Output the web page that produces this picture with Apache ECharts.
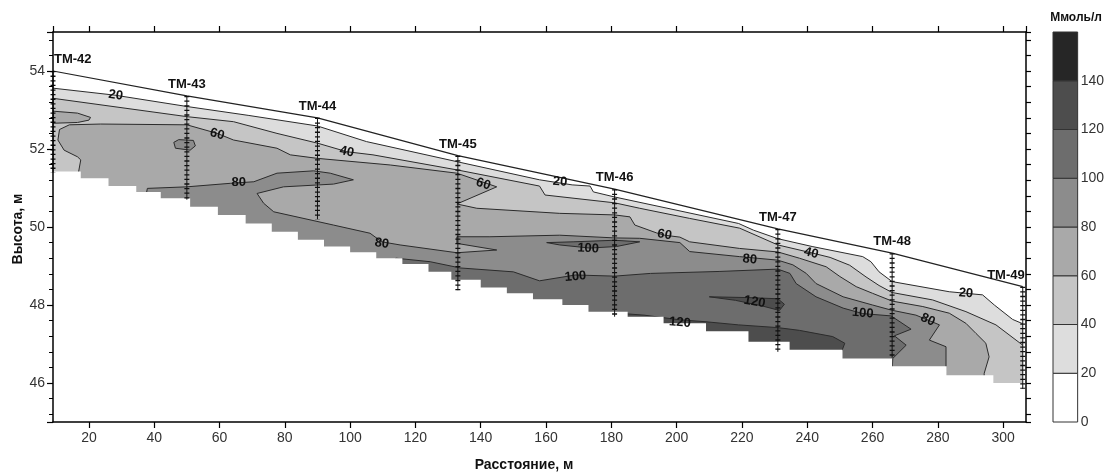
<!DOCTYPE html>
<html>
<head>
<meta charset="utf-8">
<script src="https://cdn.jsdelivr.net/npm/echarts@6/dist/echarts.min.js"></script>
<style>
  html, body { margin: 0; padding: 0; background: #fff; }
  #chart { width: 1107px; height: 473px; }
</style>
</head>
<body>
<div id="chart"></div>
<script>
// boreholes along the profile
const stationNames = ['TM-42', 'TM-43', 'TM-44', 'TM-45', 'TM-46', 'TM-47', 'TM-48', 'TM-49'];
const stationX = [9, 50, 90, 133, 181, 231, 266, 306];
const surfaceY = [54.0, 53.36, 52.8, 51.83, 50.97, 49.95, 49.33, 48.47];
const stationBottomY = [51.4, 50.7, 50.2, 48.38, 47.7, 46.8, 46.65, 45.85];

// lower edge of the gridded area, [x where the step starts, height]
const bottomSteps = [[9, 51.42], [17.5, 51.25], [26, 51.05], [34.5, 50.9], [42, 50.74], [51, 50.52],
  [59.5, 50.31], [68, 50.09], [76, 49.88], [84, 49.67], [92, 49.5], [100, 49.35], [108, 49.2],
  [116, 49.05], [124, 48.85], [131, 48.65], [140, 48.45], [148, 48.3], [156, 48.15], [165, 48.0],
  [173, 47.83], [185, 47.7], [196, 47.53], [209, 47.33], [222, 47.06], [234.6, 46.85],
  [250.8, 46.63], [266, 46.43], [282.7, 46.2], [297, 46.0]];

// contour levels, mmol/l
const levels = [0, 20, 40, 60, 80, 100, 120, 140, 160];
const bandColors = ['#ffffff', '#dddddd', '#c5c5c5', '#a9a9a9', '#8c8c8c', '#6d6d6d', '#4d4d4d', '#262626'];

// contour lines crossing the whole profile
const line20 = [[9, 53.56], [28, 53.38], [50, 53.09], [69, 52.86], [90, 52.59], [105, 52.19],
  [133, 51.67], [158, 51.21], [168, 51.08], [173.5, 51.05], [174.5, 50.9], [181, 50.77],
  [219, 50.09], [223.5, 49.92], [231, 49.7], [241.5, 49.5], [257, 49.24], [259.5, 49.11],
  [262, 48.85], [266, 48.6], [283.5, 48.34], [288.6, 48.3], [293.7, 48.26], [297.3, 48.0],
  [302.9, 47.63], [306, 47.52]];
const line40 = [[9, 53.3], [50, 52.83], [64.3, 52.7], [77.6, 52.4], [90, 52.15], [99, 51.93],
  [107, 51.85], [133, 51.46], [158, 51.05], [159.7, 50.82], [181, 50.62], [188.7, 50.48],
  [204, 50.22], [219.3, 49.97], [231, 49.54], [241.7, 49.33], [247, 49.22], [253, 49.02],
  [258, 48.72], [262, 48.5], [266, 48.32], [278.4, 48.13], [288.6, 47.83], [297.8, 47.49],
  [306, 46.97]];

// upper outlines of the areas above a level (they run down past the lower edge)
const area60 = [[15.5, 50.8], [17.5, 51.72], [16.5, 51.8], [12.4, 51.97], [10.5, 52.23], [11, 52.5],
  [14, 52.62], [23.6, 52.64], [50, 52.62], [59.3, 52.4], [64.3, 52.23], [77.6, 52.02], [81.7, 51.85],
  [90, 51.76], [112.3, 51.59], [132.7, 51.38], [144.9, 51.03], [132.7, 50.59], [138.8, 50.48],
  [164.2, 50.35], [181, 50.31], [185.7, 50.26], [187.2, 50.05], [193.8, 49.85], [196.3, 49.79],
  [201, 49.74], [204, 49.62], [219.3, 49.45], [231, 49.36], [237.6, 49.2], [245.8, 48.98],
  [250, 48.73], [255, 48.47], [260, 48.3], [266, 48.1], [275.4, 47.96], [283.5, 47.79],
  [288.6, 47.53], [291.7, 47.27], [294.7, 47.02], [295.7, 46.67], [294.2, 46.25], [294, 45.8]];
const lens60 = [[9, 52.97], [16.5, 52.92], [20.5, 52.81], [20, 52.74], [16.5, 52.68], [9, 52.66]];
const area80 = [[37, 50.6], [37.9, 50.99], [50, 51.03], [63.3, 51.12], [70.5, 51.16], [77.6, 51.38],
  [88.8, 51.44], [93.9, 51.38], [101, 51.21], [94.9, 51.1], [79.6, 51.03], [71.5, 50.86],
  [73.5, 50.61], [76.6, 50.39], [94.9, 50.05], [106.1, 49.84], [109.7, 49.62], [115.3, 49.54],
  [132.7, 49.34], [144.9, 49.41], [132.7, 49.58], [132.7, 49.75], [142.8, 49.75], [164.2, 49.79],
  [181, 49.72], [188.7, 49.71], [201, 49.6], [204, 49.37], [219.3, 49.24], [231, 49.15],
  [235.6, 49.03], [239.7, 48.81], [242.7, 48.55], [251, 48.21], [260, 48.0], [265.7, 47.87],
  [273.3, 47.74], [280.5, 47.49], [277.4, 47.1], [282.5, 46.93], [282.5, 46.3]];
const island80 = [[46, 52.17], [47.5, 52.24], [52, 52.22], [52.6, 52.08], [51, 51.97], [46.5, 52.02]];
const area100 = [[112, 48.9], [114, 49.2], [124.5, 49.11], [133.7, 48.95], [150, 48.85], [158, 48.62],
  [169, 48.77], [181, 48.74], [192, 48.81], [213, 48.86], [231, 48.92], [234.7, 48.81],
  [236.6, 48.55], [242.7, 48.21], [251, 47.92], [257, 47.78], [265.7, 47.72], [271.8, 47.38],
  [266.7, 47.21], [270.3, 46.97], [266.2, 46.63], [266, 46.3]];
const lens100 = [[160.2, 49.6], [168.3, 49.62], [181, 49.66], [188.7, 49.62], [181.6, 49.5],
  [173.4, 49.46], [164.2, 49.54]];
const area120 = [[183, 47.5], [183.6, 47.78], [190, 47.74], [201, 47.62], [209, 47.57], [219, 47.49],
  [231, 47.42], [237.6, 47.35], [247.8, 47.19], [251.5, 47.02], [250.5, 46.8], [250.5, 46.5]];
const lens120 = [[210, 48.21], [222, 48.19], [231, 48.16], [233, 48.02], [231.5, 47.86], [226, 47.98],
  [218, 48.12]];

// contour labels: distance, height, text, tilt in degrees (clockwise)
const contourLabels = [[28.2, 53.38, '20', 8], [59.3, 52.38, '60', 15], [99, 51.93, '40', 12],
  [65.9, 51.14, '80', 0], [140.8, 51.1, '60', 18], [164.3, 51.16, '20', 5], [109.7, 49.58, '80', 8],
  [172.9, 49.45, '100', 3], [169, 48.73, '100', -5], [196.3, 49.8, '60', 10], [222.4, 49.17, '80', 5],
  [201, 47.55, '120', 5], [223.9, 48.08, '120', 10], [241.2, 49.33, '40', 15], [257, 47.79, '100', 5],
  [276.9, 47.62, '80', 25], [288.6, 48.3, '20', 5]];

const FONT = '"Liberation Sans", Arial, sans-serif';
const LOW = 44;

function closeSides(pts) {
  const first = pts[0], last = pts[pts.length - 1];
  return [[7, first[1]]].concat(pts, [[309, last[1]], [309, LOW], [7, LOW]]);
}
function closeDown(pts) {
  const first = pts[0], last = pts[pts.length - 1];
  return pts.concat([[last[0], LOW], [first[0], LOW]]);
}

function polygonSeries(pts, fill, z, stroke) {
  return {
    type: 'custom',
    xAxisIndex: 0,
    yAxisIndex: 0,
    clip: true,
    silent: true,
    z: z,
    data: [pts[0]],
    renderItem: function (params, api) {
      return {
        type: 'polygon',
        shape: { points: pts.map(function (p) { return api.coord(p); }) },
        style: { fill: fill, stroke: stroke === false ? null : '#2b2b2b', lineWidth: 1 }
      };
    }
  };
}

// white mask below the stepped lower edge and right of the last borehole
const maskPts = [[7, bottomSteps[0][1]]];
bottomSteps.forEach(function (s, i) {
  const xEnd = i < bottomSteps.length - 1 ? bottomSteps[i + 1][0] : 309;
  maskPts.push([s[0], s[1]], [xEnd, s[1]]);
});
maskPts.push([309, LOW], [7, LOW]);
const rightMask = [[306, LOW], [309, LOW], [309, 56], [306, 56]];

const bands = levels.slice(0, -1).map(function (lo, i) { return [lo, levels[i + 1]]; });

const axisLineStyle = { color: '#000', width: 1.5 };
const labelStyle = { color: '#333', fontSize: 14, fontFamily: FONT };

const chart = echarts.init(document.getElementById('chart'), null, { renderer: 'canvas' });

chart.setOption({
  animation: false,
  backgroundColor: '#fff',
  grid: [
    { left: 53, top: 32, width: 973, height: 390 },
    { left: 1053, top: 32, width: 25, height: 390 }
  ],
  xAxis: [
    {
      gridIndex: 0, type: 'value', min: 9, max: 307, splitNumber: 15, position: 'bottom', z: 20,
      axisLine: { show: true, lineStyle: axisLineStyle },
      axisTick: { show: true, length: 6, lineStyle: { color: '#000', width: 1.2 } },
      axisLabel: Object.assign({ showMinLabel: false, showMaxLabel: false, margin: 9 }, labelStyle),
      splitLine: { show: false }
    },
    {
      gridIndex: 0, type: 'value', min: 9, max: 307, splitNumber: 15, position: 'top', z: 20,
      axisLine: { show: true, lineStyle: axisLineStyle },
      axisTick: { show: true, length: 6, lineStyle: { color: '#000', width: 1.2 } },
      axisLabel: { show: false },
      splitLine: { show: false }
    },
    { gridIndex: 1, type: 'value', min: 0, max: 1, show: false }
  ],
  yAxis: [
    {
      gridIndex: 0, type: 'value', min: 45, max: 55, splitNumber: 5, position: 'left', z: 20,
      axisLine: { show: true, lineStyle: axisLineStyle },
      axisTick: { show: true, length: 6, lineStyle: { color: '#000', width: 1.2 } },
      minorTick: { show: true, splitNumber: 5, length: 4, lineStyle: { color: '#000', width: 1 } },
      axisLabel: Object.assign({ showMinLabel: false, showMaxLabel: false, margin: 8 }, labelStyle),
      splitLine: { show: false }
    },
    {
      gridIndex: 0, type: 'value', min: 45, max: 55, splitNumber: 5, position: 'right', z: 20,
      axisLine: { show: true, lineStyle: axisLineStyle },
      axisTick: { show: true, length: 5, lineStyle: { color: '#000', width: 1.2 } },
      minorTick: { show: true, splitNumber: 5, length: 5, lineStyle: { color: '#000', width: 1.2 } },
      axisLabel: { show: false },
      splitLine: { show: false }
    },
    {
      gridIndex: 1, type: 'value', min: 0, max: 160, interval: 20, position: 'right',
      axisLine: { show: false },
      axisTick: { show: false },
      axisLabel: Object.assign({
        margin: 3,
        formatter: function (v) { return v === 160 ? '' : String(v); }
      }, labelStyle),
      splitLine: { show: false }
    }
  ],
  graphic: [
    { type: 'text', x: 524, y: 465, style: { text: 'Расстояние, м', font: 'bold 14px ' + FONT, fill: '#111', align: 'center', verticalAlign: 'middle' } },
    { type: 'text', x: 18, y: 229, rotation: Math.PI / 2, style: { text: 'Высота, м', font: 'bold 14px ' + FONT, fill: '#111', align: 'center', verticalAlign: 'middle' } },
    { type: 'text', x: 1076, y: 18, style: { text: 'Ммоль/л', font: 'bold 12px ' + FONT, fill: '#111', align: 'center', verticalAlign: 'middle' } }
  ],
  series: [
    polygonSeries(closeSides(line20), bandColors[1], 2),
    polygonSeries(closeSides(line40), bandColors[2], 3),
    polygonSeries(closeDown(area60), bandColors[3], 4),
    polygonSeries(lens60, bandColors[3], 4),
    polygonSeries(closeDown(area80), bandColors[4], 5),
    polygonSeries(island80, bandColors[4], 5),
    polygonSeries(closeDown(area100), bandColors[5], 6),
    polygonSeries(lens100, bandColors[5], 6),
    polygonSeries(closeDown(area120), bandColors[6], 7),
    polygonSeries(lens120, bandColors[6], 7),
    polygonSeries(maskPts, '#ffffff', 8, false),
    polygonSeries(rightMask, '#ffffff', 8, false),
    {
      type: 'line',
      xAxisIndex: 0, yAxisIndex: 0,
      z: 9, silent: true, symbol: 'none',
      data: stationX.map(function (x, i) { return [x, surfaceY[i]]; }),
      lineStyle: { color: '#222', width: 1.2 }
    },
    {
      type: 'custom',
      xAxisIndex: 0, yAxisIndex: 0,
      z: 10, silent: true, clip: false,
      data: stationX.map(function (x, i) { return [x, surfaceY[i], stationBottomY[i]]; }),
      renderItem: function (params, api) {
        const i = params.dataIndex;
        const last = stationX.length - 1;
        const top = api.coord([api.value(0), api.value(1)]);
        const bot = api.coord([api.value(0), api.value(2)]);
        const align = i === 0 ? 'left' : (i === last ? 'right' : 'center');
        const dx = i === 0 ? 1 : (i === last ? 2 : 0);
        return {
          type: 'group',
          children: [
            { type: 'line', shape: { x1: top[0], y1: top[1], x2: bot[0], y2: bot[1] }, style: { stroke: '#111', lineWidth: 1 } },
            { type: 'line', shape: { x1: top[0], y1: top[1], x2: bot[0], y2: bot[1] }, style: { stroke: '#111', lineWidth: 5, lineDash: [1.3, 3.3] } },
            { type: 'text', x: top[0] + dx, y: top[1] - 5, style: { text: stationNames[i], font: 'bold 13px ' + FONT, fill: '#111', align: align, verticalAlign: 'bottom' } }
          ]
        };
      }
    },
    {
      type: 'custom',
      xAxisIndex: 0, yAxisIndex: 0,
      z: 11, silent: true, clip: false,
      data: contourLabels.map(function (l) { return [l[0], l[1]]; }),
      renderItem: function (params, api) {
        const l = contourLabels[params.dataIndex];
        const p = api.coord([l[0], l[1]]);
        return {
          type: 'text', x: p[0], y: p[1], rotation: -l[3] * Math.PI / 180,
          style: { text: l[2], font: 'bold 13px ' + FONT, fill: '#111', align: 'center', verticalAlign: 'middle' }
        };
      }
    },
    {
      type: 'custom',
      xAxisIndex: 2, yAxisIndex: 2,
      z: 3, silent: true,
      data: bands,
      renderItem: function (params, api) {
        const b = bands[params.dataIndex];
        const p1 = api.coord([0, b[1]]);
        const p2 = api.coord([1, b[0]]);
        return {
          type: 'rect',
          shape: { x: p1[0], y: p1[1], width: p2[0] - p1[0], height: p2[1] - p1[1] },
          style: { fill: bandColors[params.dataIndex], stroke: '#333', lineWidth: 1 }
        };
      }
    }
  ]
});
</script>
</body>
</html>
